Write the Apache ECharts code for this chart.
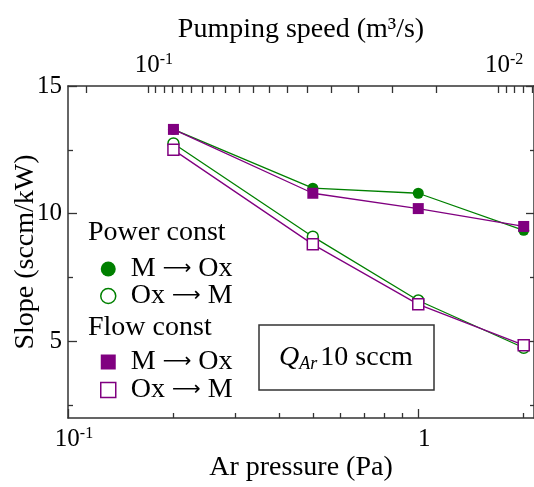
<!DOCTYPE html>
<html><head><meta charset="utf-8">
<script src="https://cdn.jsdelivr.net/npm/echarts@6/dist/echarts.min.js"></script>
<style>html,body{margin:0;padding:0;background:#fff}#c{width:534px;height:487px}</style>
</head><body><div id="c"></div>
<script>
// ---- data ----
const pressures = [0.2, 0.5, 1, 2];              // Ar pressure (Pa)
const powerMOx  = [13.3, 11.0, 10.8, 9.35];      // Power const, M -> Ox
const powerOxM  = [12.75, 9.1, 6.6, 4.75];       // Power const, Ox -> M
const flowMOx   = [13.3, 10.8, 10.2, 9.5];       // Flow const, M -> Ox
const flowOxM   = [12.5, 8.8, 6.45, 4.85];       // Flow const, Ox -> M

const xRange = [0.1, 2.14];
const yRange = [2, 15];
const xMinorTicks = [0.2, 0.3, 0.4, 0.5, 0.6, 0.7, 0.8, 0.9, 2];
const xMajorTicks = [0.1, 1];
const xLabels = [0.1, 1];
const qAr = 0.0169;  // 10 sccm in Pa*m3/s : pumping speed = qAr / pressure
const topTicks = [0.15, 0.1, 0.095, 0.09, 0.085, 0.08, 0.075, 0.07, 0.065, 0.06, 0.055, 0.05,
                  0.045, 0.04, 0.035, 0.03, 0.025, 0.02, 0.015, 0.01, 0.0095, 0.009, 0.0085, 0.008];
const topLabels = [0.1, 0.01];
const yMajorTicks = [5, 10, 15];
const yMinorTicks = [2.5, 7.5, 12.5];
const yLabels = [5, 10, 15];

const GREEN = '#008000', PURPLE = '#800080', AX = '#333';
const FONT = 'Liberation Serif';

function pow10Label(v) {
  const e = Math.round(Math.log10(v));
  if (e === 0) return '{b|1}';
  return '{b|10}{s|' + e + '}';
}
const richLog = {
  b: { fontFamily: FONT, fontSize: 25, color: '#000', lineHeight: 26 },
  s: { fontFamily: FONT, fontSize: 16, color: '#000', lineHeight: 16, verticalAlign: 'top' }
};
const axLine = { show: true, lineStyle: { color: AX, width: 1.5 } };
const nameStyle = { fontFamily: FONT, fontSize: 28, color: '#000' };

function pairs(vals) { return pressures.map((p, i) => [p, vals[i]]); }
function legendFmt(n) {
  const parts = n.split(': ')[1].split(' → ');
  return '{t|' + parts[0] + ' }{a|⟶}{t| ' + parts[1] + '}';
}
const legendText = {
  fontFamily: FONT, fontSize: 28, color: '#000', lineHeight: 15, padding: [0, 0, 0, 10],
  rich: {
    t: { fontFamily: FONT, fontSize: 28, color: '#000', lineHeight: 15 },
    a: { fontFamily: 'DejaVu Sans', fontSize: 20, color: '#000', lineHeight: 15 }
  }
};

const chart = echarts.init(document.getElementById('c'), null, { renderer: 'canvas' });
chart.setOption({
  animation: false,
  backgroundColor: '#fff',
  grid: { left: 68, right: 0, top: 86, bottom: 69, containLabel: false, outerBoundsMode: 'none' },
  xAxis: [
    { type: 'log', position: 'bottom', min: xRange[0], max: xRange[1],
      axisLine: axLine,
      axisTick: { show: true, inside: true, length: 5, customValues: xMinorTicks, lineStyle: { color: AX, width: 1.3 } },
      axisLabel: { show: true, customValues: xLabels, formatter: pow10Label, rich: richLog, margin: 8, padding: [0, 0, 0, 12] },
      splitLine: { show: false },
      name: 'Ar pressure (Pa)', nameLocation: 'middle', nameGap: 36, nameMoveOverlap: false,
      nameTextStyle: nameStyle },
    { type: 'log', position: 'top', inverse: true, min: qAr / xRange[1], max: qAr / xRange[0],
      axisLine: axLine,
      axisTick: { show: true, inside: true, length: 7, customValues: topTicks, lineStyle: { color: AX, width: 1.3 } },
      axisLabel: { show: true, customValues: topLabels, formatter: pow10Label, rich: richLog, margin: 8, padding: [0, 0, 0, 12] },
      splitLine: { show: false },
      name: 'Pumping speed (m³/s)', nameLocation: 'middle', nameGap: 42, nameMoveOverlap: false,
      nameTextStyle: nameStyle },
    { type: 'log', position: 'bottom', min: xRange[0], max: xRange[1],
      axisLine: { show: false },
      axisTick: { show: true, inside: true, length: 9, customValues: xMajorTicks, lineStyle: { color: AX, width: 1.3 } },
      axisLabel: { show: false }, splitLine: { show: false } }
  ],
  yAxis: [
    { type: 'value', position: 'left', min: yRange[0], max: yRange[1],
      axisLine: axLine,
      axisTick: { show: true, inside: true, length: 9, customValues: yMajorTicks, lineStyle: { color: AX, width: 1.3 } },
      axisLabel: { show: true, customValues: yLabels, fontFamily: FONT, fontSize: 25, color: '#000', margin: 6 },
      splitLine: { show: false },
      name: 'Slope (sccm/kW)', nameLocation: 'middle', nameGap: 28, nameMoveOverlap: false,
      nameTextStyle: nameStyle },
    { type: 'value', position: 'left', min: yRange[0], max: yRange[1],
      axisLine: { show: false },
      axisTick: { show: true, inside: true, length: 5, customValues: yMinorTicks, lineStyle: { color: AX, width: 1.3 } },
      axisLabel: { show: false }, splitLine: { show: false } },
    { type: 'value', position: 'right', min: yRange[0], max: yRange[1],
      axisLine: axLine,
      axisTick: { show: true, inside: true, length: 8, customValues: yMajorTicks, lineStyle: { color: AX, width: 1.3 } },
      axisLabel: { show: false }, splitLine: { show: false } },
    { type: 'value', position: 'right', min: yRange[0], max: yRange[1],
      axisLine: { show: false },
      axisTick: { show: true, inside: true, length: 4, customValues: yMinorTicks, lineStyle: { color: AX, width: 1.3 } },
      axisLabel: { show: false }, splitLine: { show: false } }
  ],
  legend: [
    { orient: 'vertical', left: 100, top: 255, padding: 0, itemWidth: 15, itemHeight: 15, itemGap: -1, selectedMode: false,
      formatter: legendFmt, textStyle: legendText,
      data: [
        { name: 'Power: M → Ox', icon: 'circle', itemStyle: { color: GREEN, borderWidth: 0 } },
        { name: 'Power: Ox → M', icon: 'circle', itemStyle: { color: '#fff', borderColor: GREEN, borderWidth: 1.5 } }
      ] },
    { orient: 'vertical', left: 100, top: 348, padding: 0, itemWidth: 15, itemHeight: 15, itemGap: 0, selectedMode: false,
      formatter: legendFmt, textStyle: legendText,
      data: [
        { name: 'Flow: M → Ox', icon: 'rect', itemStyle: { color: PURPLE, borderWidth: 0 } },
        { name: 'Flow: Ox → M', icon: 'rect', itemStyle: { color: '#fff', borderColor: PURPLE, borderWidth: 1.5 } }
      ] }
  ],
  graphic: [
    { type: 'text', left: 88, top: 219, style: { text: 'Power const', font: '28px "Liberation Serif"', fill: '#000' } },
    { type: 'text', left: 88, top: 314, style: { text: 'Flow const', font: '28px "Liberation Serif"', fill: '#000' } },
    { type: 'rect', shape: { x: 259, y: 325, width: 175, height: 65 }, style: { fill: '#fff', stroke: AX, lineWidth: 1.5 }, z: 10 },
    { type: 'text', x: 346, y: 358, z: 11,
      style: { text: '{q|Q}{sub|Ar}{n|10 sccm}', align: 'center', verticalAlign: 'middle',
        rich: {
          q: { fontFamily: FONT, fontStyle: 'italic', fontSize: 28, lineHeight: 30, fill: '#000' },
          sub: { fontFamily: FONT, fontStyle: 'italic', fontSize: 18, lineHeight: 16, verticalAlign: 'bottom', padding: [0, 3, 0, 0], fill: '#000' },
          n: { fontFamily: FONT, fontSize: 28, lineHeight: 30, fill: '#000' }
        } } }
  ],
  series: [
    { type: 'line', name: 'Power: M → Ox', xAxisIndex: 0, yAxisIndex: 0, data: pairs(powerMOx),
      symbol: 'circle', symbolSize: 11, lineStyle: { color: GREEN, width: 1.3 }, itemStyle: { color: GREEN }, emphasis: { disabled: true } },
    { type: 'line', name: 'Power: Ox → M', xAxisIndex: 0, yAxisIndex: 0, data: pairs(powerOxM),
      symbol: 'circle', symbolSize: 11, lineStyle: { color: GREEN, width: 1.3 },
      itemStyle: { color: '#fff', borderColor: GREEN, borderWidth: 1.5 }, emphasis: { disabled: true } },
    { type: 'line', name: 'Flow: M → Ox', xAxisIndex: 0, yAxisIndex: 0, data: pairs(flowMOx),
      symbol: 'rect', symbolSize: 11, lineStyle: { color: PURPLE, width: 1.3 }, itemStyle: { color: PURPLE }, emphasis: { disabled: true } },
    { type: 'line', name: 'Flow: Ox → M', xAxisIndex: 0, yAxisIndex: 0, data: pairs(flowOxM),
      symbol: 'rect', symbolSize: 11, lineStyle: { color: PURPLE, width: 1.3 },
      itemStyle: { color: '#fff', borderColor: PURPLE, borderWidth: 1.5 }, emphasis: { disabled: true } }
  ]
});
</script></body></html>
